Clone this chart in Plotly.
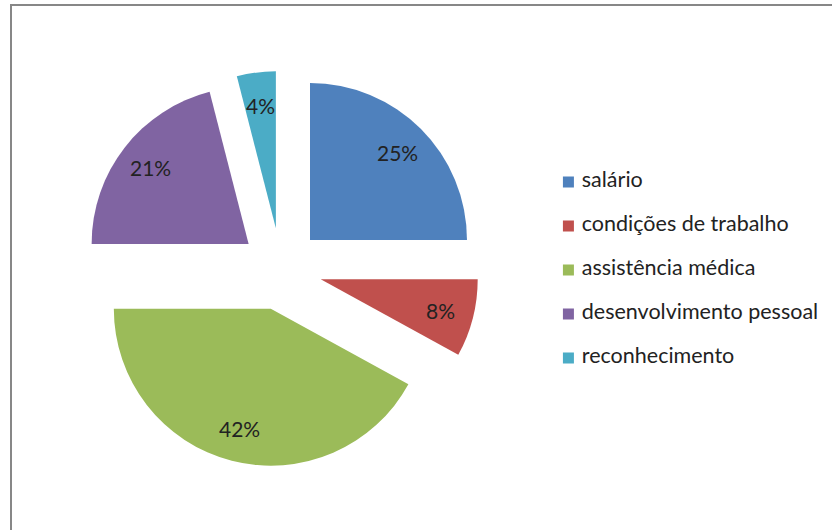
import math
import plotly.graph_objects as go

# Data
categorias = ["salário", "condições de trabalho", "assistência médica",
              "desenvolvimento pessoal", "reconhecimento"]
percentuais = [25, 8, 42, 21, 4]
cores = ["#4F81BD", "#C0504D", "#9BBB59", "#8064A2", "#4BACC6"]
rotulos = [f"{v}%" for v in percentuais]

FONT = "Lato, 'Open Sans', sans-serif"
TEXT_COLOR = "#222222"

PULL = 0.261          # every slice is exploded by the same fraction of the radius
LABEL_R = 0.79        # label distance from each slice tip, as a fraction of radius

pie_x = [0.0998, 0.5757]
pie_y = [0.1189, 0.8660]

fig = go.Figure()

fig.add_trace(go.Pie(
    labels=categorias,
    values=percentuais,
    sort=False,
    direction="clockwise",
    rotation=0,
    pull=[PULL] * len(percentuais),
    marker=dict(colors=cores, line=dict(width=0)),
    textinfo="none",
    hoverinfo="label+percent",
    showlegend=False,
    domain=dict(x=pie_x, y=pie_y),
))

# Percentage labels, placed along each slice's bisector on an overlay axis
# spanning the same box as the pie (unit = half the pie box).
total = sum(percentuais)
r_unit = 1.0 / (1.0 + PULL)
acc = 0.0
lx, ly = [], []
for lab, v in zip(rotulos, percentuais):
    mid = (acc + v / 2.0) / total * 2.0 * math.pi
    acc += v
    k = (PULL + LABEL_R) * r_unit
    x, y = k * math.sin(mid), k * math.cos(mid)
    lx.append(x)
    ly.append(y)
    fig.add_annotation(
        x=x, y=y, xref="x", yref="y", text=lab, showarrow=False,
        font=dict(family=FONT, size=21, color=TEXT_COLOR),
    )

fig.add_trace(go.Scatter(
    x=lx, y=ly, mode="markers", marker=dict(opacity=0),
    hoverinfo="skip", showlegend=False,
))

# Legend column
fig.add_trace(go.Scatter(
    x=[0.12] * len(categorias), y=categorias,
    xaxis="x2", yaxis="y2",
    mode="markers+text",
    marker=dict(symbol="square", size=11, color=cores, line=dict(width=0)),
    text=["\u00a0" + c for c in categorias],
    textposition="middle right",
    textfont=dict(family=FONT, size=21.5, color=TEXT_COLOR),
    hoverinfo="skip", showlegend=False,
))

fig.update_layout(
    width=832, height=530,
    margin=dict(l=0, r=0, t=0, b=0),
    paper_bgcolor="white", plot_bgcolor="rgba(0,0,0,0)",
    xaxis=dict(domain=pie_x, range=[-1, 1], visible=False, fixedrange=True),
    yaxis=dict(domain=pie_y, range=[-1, 1], visible=False, fixedrange=True),
    xaxis2=dict(domain=[0.64, 1.0], range=[0, 1], visible=False, anchor="y2"),
    yaxis2=dict(domain=[0.283, 0.698], type="category", range=[4.5, -0.5],
                visible=False, anchor="x2"),
    shapes=[dict(type="rect", xref="paper", yref="paper",
                 x0=11 / 832, x1=1.02, y0=-0.02, y1=1 - 5 / 530,
                 line=dict(color="#878787", width=2))],
)

fig.write_html("out.html")
